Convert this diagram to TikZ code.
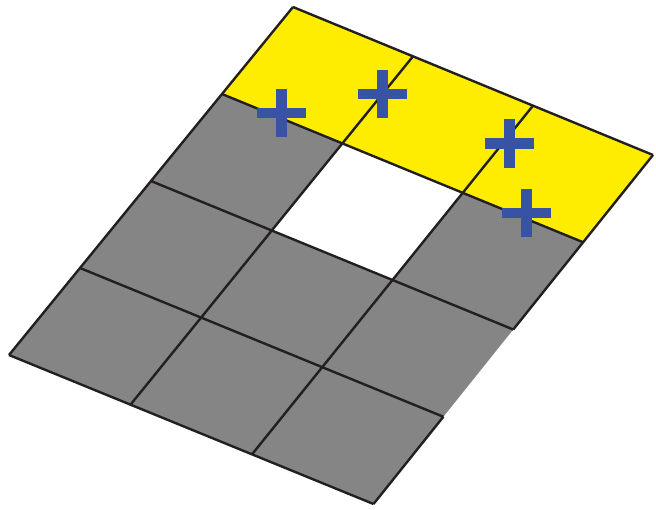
\documentclass[tikz,border=0pt]{standalone}
\definecolor{cellyellow}{HTML}{FFED00}
\definecolor{cellgray}{HTML}{858585}
\definecolor{plusblue}{HTML}{3853A4}
\definecolor{gridline}{HTML}{231F20}
\tikzset{
  gridstroke/.style={draw=gridline, line width=2.4pt},
  plussign/.pic={
    \fill[plusblue] (-24.5,-5.4) rectangle (24.5,5.4);
    \fill[plusblue] (-5.5,-24.3) rectangle (5.5,24.3);
  }
}
\begin{document}
\begin{tikzpicture}[x=1pt,y=-1pt]
\useasboundingbox (0,0) rectangle (656,509);
% corners: top (293,7), right (653,155), left (9,355), bottom (373.5,504)
\foreach \i in {0,...,3}{
  \foreach \j in {0,...,4}{
    \pgfmathsetmacro{\u}{\i/3}
    \pgfmathsetmacro{\v}{\j/4}
    \coordinate (p\i\j) at
      ({(1-\u)*(1-\v)*293 + \u*(1-\v)*653 + (1-\u)*\v*9 + \u*\v*373.5},
       {(1-\u)*(1-\v)*7 + \u*(1-\v)*155 + (1-\u)*\v*355 + \u*\v*504});
  }
}
% fills
\fill[cellyellow] (p00) -- (p30) -- (p31) -- (p01) -- cycle;
\fill[cellgray] (p01) -- (p31) -- (p34) -- (p04) -- cycle;
\fill[white] (p11) -- (p21) -- (p22) -- (p12) -- cycle;
% row lines
\foreach \j in {0,...,4}{
  \draw[gridstroke] (p0\j) -- (p3\j);
}
% column lines
\foreach \i in {0,1,2}{
  \draw[gridstroke] (p\i0) -- (p\i4);
}
\draw[gridstroke] (p30) -- (p32);
\draw[gridstroke] (p33) -- (p34);
% plus signs
\pic at (281,113) {plussign};
\pic at (382,94) {plussign};
\pic at (509.3,143.5) {plussign};
\pic at (526.5,213) {plussign};
\end{tikzpicture}
\end{document}
